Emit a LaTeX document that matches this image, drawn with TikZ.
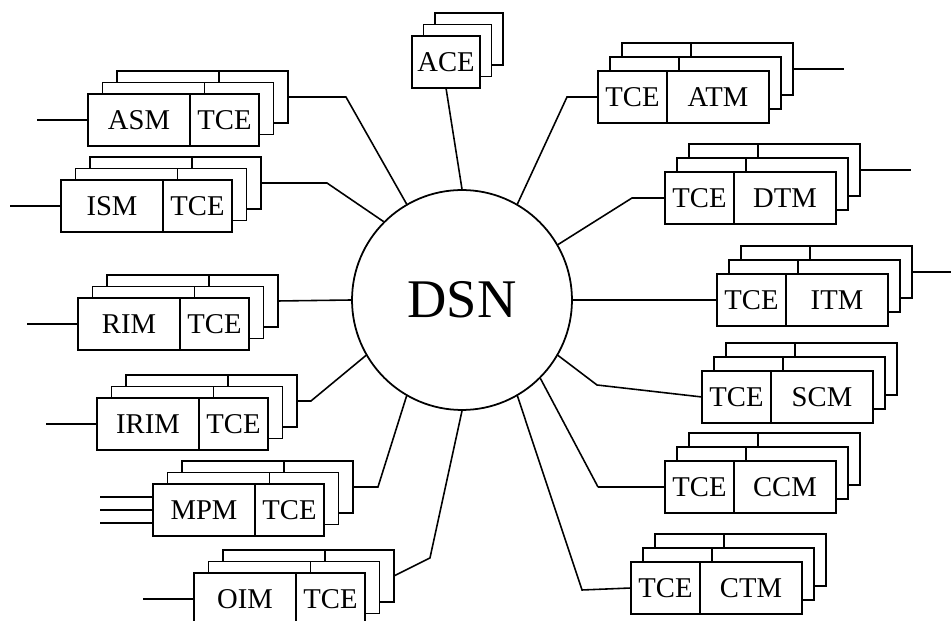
\documentclass[tikz,border=0pt]{standalone}
\usepackage{fontspec}
\setmainfont{Liberation Serif}
\usetikzlibrary{positioning,calc}

\tikzset{
  modbox/.style={draw,fill=white,line width=1pt,minimum height=1.04cm,inner sep=0pt,outer sep=0pt,font=\fontsize{16.3}{19}\selectfont},
  link/.style={line width=0.9pt},
  ext/.style={line width=1.5pt}
}
% id, front corner, left text, left width, right text, right width, layer shift x, y
\newcommand\modstack[8]{%
  \foreach \k in {2,1}{
    \node[modbox,minimum width=#4,anchor=north west] (#1-l\k) at ($(#2)+(\k*#7,\k*#8)$) {};
    \node[modbox,minimum width=#6,right=0pt of #1-l\k] (#1-r\k) {};
  }
  \node[modbox,minimum width=#4,anchor=north west] (#1-l) at (#2) {#3};
  \node[modbox,minimum width=#6,right=0pt of #1-l] (#1-r) {#5};
}

\begin{document}
\begin{tikzpicture}[x=0.02cm,y=-0.02cm]
\useasboundingbox (0,0) rectangle (951,621);
\node[draw,circle,line width=1pt,minimum size=4.4cm,inner sep=0pt,font=\fontsize{31}{37}\selectfont] (dsn) at (462,300) {DSN};

\modstack{asm}{88,94}{ASM}{2.04cm}{TCE}{1.38cm}{14.5}{-11.5}
\modstack{ism}{61,180}{ISM}{2.04cm}{TCE}{1.38cm}{14.5}{-11.5}
\modstack{rim}{78,298}{RIM}{2.04cm}{TCE}{1.38cm}{14.5}{-11.5}
\modstack{irim}{97,398}{IRIM}{2.04cm}{TCE}{1.38cm}{14.5}{-11.5}
\modstack{mpm}{153,484}{MPM}{2.04cm}{TCE}{1.38cm}{14.5}{-11.5}
\modstack{oim}{194,573}{OIM}{2.04cm}{TCE}{1.38cm}{14.5}{-11.5}

\modstack{atm}{598,71}{TCE}{1.38cm}{ATM}{2.04cm}{12}{-14}
\modstack{dtm}{665,172}{TCE}{1.38cm}{DTM}{2.04cm}{12}{-14}
\modstack{itm}{717,274}{TCE}{1.38cm}{ITM}{2.04cm}{12}{-14}
\modstack{scm}{702,371}{TCE}{1.38cm}{SCM}{2.04cm}{12}{-14}
\modstack{ccm}{665,461}{TCE}{1.38cm}{CCM}{2.04cm}{12}{-14}
\modstack{ctm}{631,562}{TCE}{1.38cm}{CTM}{2.04cm}{12}{-14}

\foreach \k in {2,1}
  \node[modbox,minimum width=1.36cm,anchor=north west] (ace\k) at ($(412,36)+(\k*11.5,\k*-11.5)$) {};
\node[modbox,minimum width=1.36cm,anchor=north west] (ace) at (412,36) {ACE};

\draw[link] (ace.south) -- (dsn.90);
\draw[link] (asm-r2.east) -- ++(58,0) -- (dsn.120);
\draw[link] (ism-r2.east) -- ++(66,0) -- (dsn.135);
\draw[link] (rim-r2.east) -- (dsn.180);
\draw[link] (irim-r2.east) -- ++(14,0) -- (dsn.210);
\draw[link] (mpm-r2.east) -- ++(25,0) -- (dsn.240);
\draw[link] (oim-r2.east) -- ++(36,-18) -- (dsn.270);
\draw[link] (atm-l.west) -- ++(-31,0) -- (dsn.60);
\draw[link] (dtm-l.west) -- ++(-33,0) -- (dsn.30);
\draw[link] (itm-l.west) -- (dsn.0);
\draw[link] (scm-l.west) -- ++(-105,-12) -- (dsn.-30);
\draw[link] (ctm-l.west) -- ++(-49,2) -- (dsn.-60);
\draw[ext] (ccm-l.west) -- ++(-67,0) coordinate (ccmk);
\draw[link] (ccmk) -- (dsn.-45);

\foreach \m in {asm,ism,rim,irim,oim}
  \draw[ext] (\m-l.west) -- ++(-51,0);
\foreach \d in {-13,0,13}
  \draw[ext] ($(mpm-l.west)+(0,\d)$) -- ++(-53,0);
\foreach \m in {atm,dtm,itm}
  \draw[ext] (\m-r2.east) -- ++(51,0);
\end{tikzpicture}
\end{document}
